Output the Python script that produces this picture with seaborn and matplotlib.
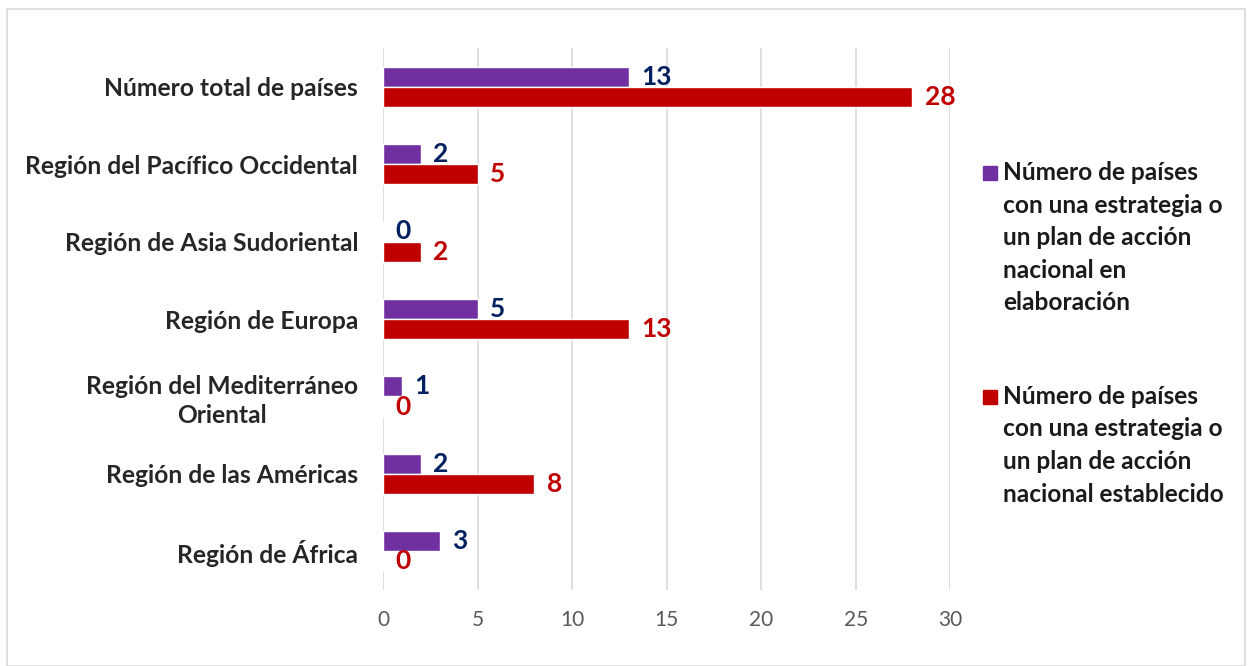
import matplotlib
matplotlib.use("Agg")
import matplotlib.pyplot as plt
import matplotlib.patches as mpatches
import seaborn as sns
import pandas as pd

regions = ["Número total de países",
           "Región del Pacífico Occidental",
           "Región de Asia Sudoriental",
           "Región de Europa",
           "Región del Mediterráneo\nOriental",
           "Región de las Américas",
           "Región de África"]
en_elaboracion = [13, 2, 0, 5, 1, 2, 3]
establecido = [28, 5, 2, 13, 0, 8, 0]
series = ["Número de países\ncon una estrategia o\nun plan de acción\nnacional en\nelaboración",
          "Número de países\ncon una estrategia o\nun plan de acción\nnacional establecido"]
bar_colors = ["#7030A0", "#C00000"]
label_colors = ["#002060", "#C00000"]

df = pd.DataFrame({
    "region": regions * 2,
    "valor": en_elaboracion + establecido,
    "serie": [series[0]] * len(regions) + [series[1]] * len(regions),
})

sns.set_style("white")
plt.rcParams["font.family"] = ["Lato", "DejaVu Sans"]

W, H = 1252, 666
fig = plt.figure(figsize=(W / 100, H / 100), dpi=100)
ax = fig.add_axes([0.306, 0.114, 0.453, 0.814])

sns.barplot(data=df, x="valor", y="region", hue="serie", order=regions,
            hue_order=series, palette=bar_colors, width=0.52, orient="h",
            saturation=1, legend=False, ax=ax)

for cont, col in zip(ax.containers, label_colors):
    ax.bar_label(cont, padding=9, color=col, fontsize=19, fontweight="bold")

ax.set_xlim(0, 30)
ax.set_xticks(range(0, 31, 5))
ax.set_xlabel("")
ax.set_ylabel("")
ax.xaxis.grid(True, color="#D9D9D9", linewidth=1.2)
ax.set_axisbelow(True)
for s in ax.spines.values():
    s.set_visible(False)
ax.tick_params(axis="x", length=0, labelsize=15, labelcolor="#595959", pad=14)
ax.tick_params(axis="y", length=0, labelsize=17.7, pad=18)
for t in ax.get_yticklabels():
    t.set_fontweight("bold")
    t.set_multialignment("center")
    t.set_linespacing(1.3)

# legend: squares + wrapped labels, square beside first line
legend_tops = [161, 385]
for lab, col, top in zip(series, bar_colors, legend_tops):
    fig.patches.append(mpatches.Rectangle((983 / W, 1 - (top + 19) / H), 14 / W, 14 / H,
                                          transform=fig.transFigure, color=col))
    fig.text(1003 / W, 1 - top / H, lab, fontsize=17.6, fontweight="bold",
             color="#1A1A1A", va="top", ha="left", linespacing=1.5)

fig.patches.append(mpatches.Rectangle((7 / W, 0), 1238 / W, 1 - 9 / H,
                                      transform=fig.transFigure, fill=False,
                                      edgecolor="#D9D9D9", linewidth=1.2))

fig.savefig("out.png", dpi=100)
